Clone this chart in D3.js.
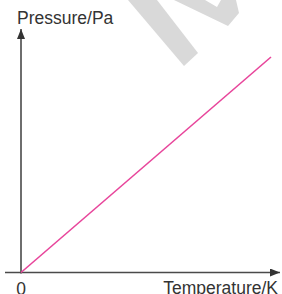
<!DOCTYPE html>
<html>
<head>
<meta charset="utf-8">
<script src="https://cdn.jsdelivr.net/npm/d3@7"></script>
<style>
html,body{margin:0;padding:0;background:#fff;overflow:hidden;}
svg{display:block;}
</style>
</head>
<body>
<script>
// Data
const temperature = [0, 100];
const pressure = [0, 100];
const xLabel = "Temperature/K";
const yLabel = "Pressure/Pa";
const originLabel = "0";

const W = 282, H = 294;
const svg = d3.select("body").append("svg").attr("width", W).attr("height", H);

// watermark (grey diagonal strokes)
const wm = svg.append("g").attr("fill", "#d9d9d9");
wm.append("path").attr("d", "M128,0 L157,0 L198,53 L184,66 Z");
wm.append("path").attr("d", "M174,0 L228,26 L239,13 L236,0 L221,0 L217,7 L205,0 Z");

const x = d3.scaleLinear().domain([0, 100]).range([21, 271]);
const y = d3.scaleLinear().domain([0, 100]).range([272.5, 57]);

const defs = svg.append("defs");
defs.append("marker").attr("id", "arr")
  .attr("viewBox", "0 0 10 8").attr("refX", 10).attr("refY", 4)
  .attr("markerWidth", 10).attr("markerHeight", 8)
  .attr("markerUnits", "userSpaceOnUse").attr("orient", "auto")
  .append("path").attr("d", "M0,0 L10,4 L0,8 Z").attr("fill", "#333");

const axisColor = "#4a4a4a";
// x axis
svg.append("line")
  .attr("x1", x(0) - 16).attr("y1", y(0))
  .attr("x2", 280).attr("y2", y(0))
  .attr("stroke", axisColor).attr("stroke-width", 1.6)
  .attr("marker-end", "url(#arr)");
// y axis
svg.append("line")
  .attr("x1", x(0)).attr("y1", y(0) + 1)
  .attr("x2", x(0)).attr("y2", 29)
  .attr("stroke", axisColor).attr("stroke-width", 1.6)
  .attr("marker-end", "url(#arr)");

// data line
const line = d3.line().x((d, i) => x(temperature[i])).y((d, i) => y(pressure[i]));
svg.append("path").datum(temperature)
  .attr("d", line)
  .attr("fill", "none").attr("stroke", "#e8459b").attr("stroke-width", 1.6);

const font = "'Liberation Sans', Arial, Helvetica, sans-serif";
svg.append("text").text(yLabel)
  .attr("x", 17).attr("y", 24)
  .attr("font-family", font).attr("font-size", 17.5).attr("fill", "#333");
svg.append("text").text(xLabel)
  .attr("x", 278).attr("y", 293.5).attr("text-anchor", "end")
  .attr("font-family", font).attr("font-size", 17.5).attr("fill", "#333");
svg.append("text").text(originLabel)
  .attr("x", x(0)).attr("y", 295).attr("text-anchor", "middle")
  .attr("font-family", font).attr("font-size", 17.5).attr("fill", "#333");
</script>
</body>
</html>
